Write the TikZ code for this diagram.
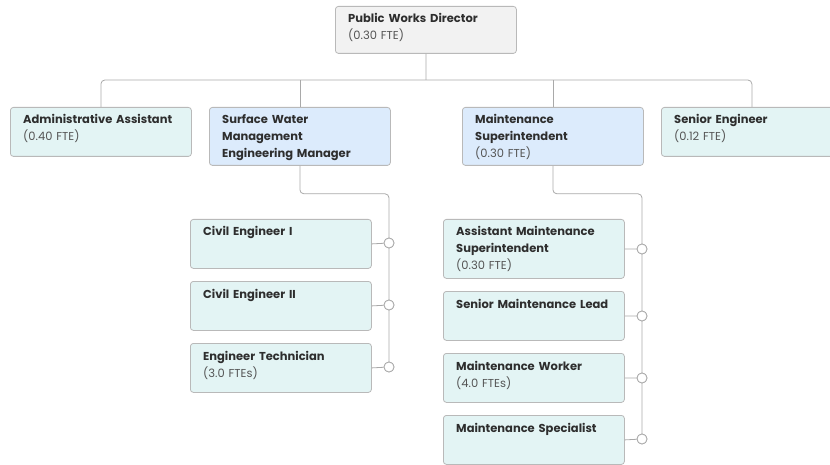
\documentclass[tikz,border=0pt]{standalone}
\usepackage{fontspec}
\setmainfont{Poppins}
\usetikzlibrary{positioning}

\definecolor{boxline}{HTML}{B9B9B9}
\definecolor{linkcol}{HTML}{A9A9A9}
\definecolor{topfill}{HTML}{F2F2F2}
\definecolor{leadfill}{HTML}{DCEBFC}
\definecolor{staffill}{HTML}{E3F4F4}
\definecolor{namecol}{HTML}{2E2E2E}
\definecolor{ftecol}{HTML}{555555}

\newcommand{\Name}[1]{{\bfseries\color{namecol}#1}}
\newcommand{\Fte}[1]{{\color{ftecol}#1}}

% box at (x,y) with width, height, style and text
\newcommand{\Post}[7]{%
  \node[post, #6, minimum width=#4, minimum height=#5] (#1) at (#2,#3) {};
  \node[posttext] (#1-t) at ([xshift=13,yshift=-17]#1.north west) {#7};
}

\tikzset{
  post/.style={draw=boxline, line width=0.8pt, rounded corners=3pt, inner sep=0pt, anchor=north west},
  top/.style={fill=topfill},
  lead/.style={fill=leadfill},
  staff/.style={fill=staffill},
  posttext/.style={anchor=base west, inner sep=0pt, text width=178pt, align=left,
    font=\fontsize{11.5}{17}\selectfont},
  link/.style={draw=linkcol, line width=0.8pt, rounded corners=4pt},
  knob/.style={circle, draw=linkcol, line width=0.8pt, fill=white, inner sep=0pt, minimum size=10pt},
}

\begin{document}
\begin{tikzpicture}[x=1pt, y=-1pt]
	\clip (0,0) rectangle (830,465);

	\Post{dir}{335}{6}{181}{47}{top}{\Name{Public Works Director}\\\Fte{(0.30 FTE)}}

	\Post{admin}{10}{107}{181}{49}{staff}{\Name{Administrative Assistant}\\\Fte{(0.40 FTE)}}
	\Post{swm}{209}{107}{181}{58}{lead}{\Name{Surface Water}\\\Name{Management}\\\Name{Engineering Manager}}
	\Post{ms}{462}{107}{181}{58}{lead}{\Name{Maintenance}\\\Name{Superintendent}\\\Fte{(0.30 FTE)}}
	\Post{senior}{661}{107}{181}{49}{staff}{\Name{Senior Engineer}\\\Fte{(0.12 FTE)}}

	\Post{ce1}{190}{219}{181}{49}{staff}{\Name{Civil Engineer I}}
	\Post{ce2}{190}{281}{181}{49}{staff}{\Name{Civil Engineer II}}
	\Post{tech}{190}{343}{181}{49}{staff}{\Name{Engineer Technician}\\\Fte{(3.0 FTEs)}}

	\Post{ams}{443}{219}{181}{59}{staff}{\Name{Assistant Maintenance}\\\Name{Superintendent}\\\Fte{(0.30 FTE)}}
	\Post{sml}{443}{291}{181}{49}{staff}{\Name{Senior Maintenance Lead}}
	\Post{mw}{443}{353}{181}{49}{staff}{\Name{Maintenance Worker}\\\Fte{(4.0 FTEs)}}
	\Post{msp}{443}{415}{181}{49}{staff}{\Name{Maintenance Specialist}}

	% top level
	\coordinate (bus) at (426,80);
	\draw[link] (dir.south) -- (bus);
	\draw[link] (admin.north) |- (bus) -| (senior.north);
	\draw[link] (swm.north) -- (swm.north |- bus);
	\draw[link] (ms.north) -- (ms.north |- bus);

	% engineering group
	\node[knob] (ce1-k) at (389,243) {};
	\node[knob] (ce2-k) at (389,305) {};
	\node[knob] (tech-k) at (389,367) {};
	\draw[link] (swm.south) -- ++(0,28) -| (tech-k.center);
	\foreach \n in {ce1,ce2,tech}
		\draw[link] (\n.east) -- (\n-k);
	\foreach \n in {ce1,ce2,tech}
		\node[knob] at (\n-k) {};

	% maintenance group
	\node[knob] (ams-k) at (642,249) {};
	\node[knob] (sml-k) at (642,316) {};
	\node[knob] (mw-k) at (642,378) {};
	\node[knob] (msp-k) at (642,439) {};
	\draw[link] (ms.south) -- ++(0,28) -| (msp-k.center);
	\foreach \n in {ams,sml,mw,msp}
		\draw[link] (\n.east) -- (\n-k);
	\foreach \n in {ams,sml,mw,msp}
		\node[knob] at (\n-k) {};
\end{tikzpicture}
\end{document}
